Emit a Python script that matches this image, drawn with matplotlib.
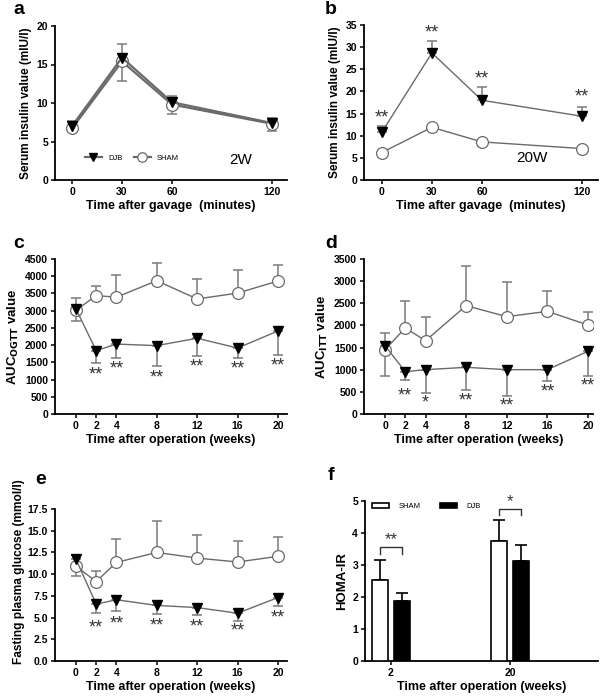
import matplotlib
matplotlib.use("Agg")
import matplotlib.pyplot as plt
import numpy as np

plt.rcParams['font.family'] = ['Liberation Sans', 'DejaVu Sans']
plt.rcParams['font.weight'] = 'bold'
plt.rcParams['axes.labelweight'] = 'bold'

# panel a (2W insulin after gavage)
t_min = [0, 30, 60, 120]
a_djb = [7.0, 15.9, 10.1, 7.4]
a_djb_err = [0.6, 1.8, 0.8, 0.7]
a_sham = [6.7, 15.4, 9.8, 7.3]
a_sham_err = [0.4, 2.5, 1.2, 0.9]

# panel b (20W insulin after gavage)
b_djb = [10.8, 28.7, 18.0, 14.4]
b_djb_err = [1.3, 2.6, 2.9, 2.1]
b_sham = [6.2, 11.9, 8.6, 7.1]
b_sham_err = [0.9, 0.3, 1.0, 0.3]
b_stars = [14.0, 33.2, 22.8, 18.7]

# weeks after operation
weeks = [0, 2, 4, 8, 12, 16, 20]

# panel c AUC OGTT
c_sham = [3010, 3440, 3390, 3870, 3340, 3510, 3860]
c_sham_err = [350, 280, 660, 510, 580, 680, 470]
c_djb = [3050, 1840, 2030, 1985, 2200, 1915, 2410]
c_djb_err = [350, 370, 410, 580, 520, 290, 690]
c_stars = [None, 1130, 1310, 1045, 1355, 1305, 1400]

# panel d AUC ITT
d_sham = [1453, 1942, 1656, 2446, 2198, 2318, 2010]
d_sham_err = [370, 600, 530, 900, 780, 450, 300]
d_djb = [1543, 956, 1001, 1054, 1001, 1001, 1415]
d_djb_err = [677, 180, 530, 505, 590, 260, 550]
d_stars = [None, 414, 248, 301, 173, 489, 625]
d_star_txt = ['', '**', '*', '**', '**', '**', '**']

# panel e fasting glucose
e_sham = [10.9, 9.15, 11.35, 12.5, 11.85, 11.4, 12.05]
e_sham_err = [1.1, 1.25, 2.65, 3.6, 2.6, 2.4, 2.25]
e_djb = [11.7, 6.55, 7.05, 6.4, 6.15, 5.5, 7.3]
e_djb_err = [0.5, 1.05, 1.25, 1.0, 0.9, 0.9, 0.95]
e_sham_up = [False, True, True, True, True, True, True]
e_stars = [None, 3.85, 4.3, 4.05, 3.95, 3.45, 5.0]

# panel f HOMA-IR
f_groups = ['2', '20']
f_sham = [2.54, 3.74]
f_sham_err = [0.62, 0.68]
f_djb = [1.86, 3.14]
f_djb_err = [0.28, 0.48]
f_sig = ['**', '*']

W, H = 609, 696
fig = plt.figure(figsize=(W / 100, H / 100), dpi=100)


def mk_ax(left, top, right, bottom):
    ax = fig.add_axes([left / W, 1 - bottom / H, (right - left) / W, (bottom - top) / H])
    ax.spines['top'].set_visible(False)
    ax.spines['right'].set_visible(False)
    ax.spines['left'].set_linewidth(1.3)
    ax.spines['bottom'].set_linewidth(1.3)
    ax.tick_params(direction='out', length=3, width=1.1, labelsize=7.5, pad=2)
    return ax


GRAY = '#6a6a6a'
EGRAY = '#7a7a7a'


def errs(ax, x, y, e, up=True):
    n = len(e)
    if up is True:
        ye = [[0] * n, e]
    elif up is False:
        ye = [e, [0] * n]
    else:
        ye = [[v if not u else 0 for v, u in zip(e, up)], [v if u else 0 for v, u in zip(e, up)]]
    ax.errorbar(x, y, yerr=ye, fmt='none', ecolor=EGRAY, elinewidth=1.1, capsize=3.5, capthick=1.1, zorder=2)


def series(ax, x, djb, sham, lw=1.0):
    l1, = ax.plot(x, djb, color=GRAY, lw=lw, marker='v', ms=7.5, mfc='black', mec='black', zorder=4, label='DJB')
    l2, = ax.plot(x, sham, color=GRAY, lw=lw, marker='o', ms=8.5, mfc='white', mec=GRAY, mew=0.9, zorder=3, label='SHAM')
    return l1, l2


def stars(ax, x, ys, txt=None):
    for i, (xx, yy) in enumerate(zip(x, ys)):
        if yy is None:
            continue
        s = txt[i] if txt else '**'
        ax.text(xx, yy, s, ha='center', va='center', fontsize=13, color='#333333', fontweight='normal')


def weeks_axis(ax):
    ax.set_xticks(weeks)
    ax.set_xlim(-2.08, 20.9)
    ax.set_xlabel('Time after operation (weeks)', fontsize=9, labelpad=2)


# a
ax = mk_ax(55, 26, 287, 180)
errs(ax, t_min, a_djb, a_djb_err, True)
errs(ax, t_min, a_sham, a_sham_err, False)
series(ax, t_min, a_djb, a_sham, lw=1.6)
ax.set_xlim(-10.2, 129)
ax.set_ylim(0, 20)
ax.set_xticks(t_min)
ax.set_yticks([0, 5, 10, 15, 20])
ax.set_xlabel('Time after gavage  (minutes)', fontsize=9, labelpad=2)
ax.set_ylabel('Serum insulin value (mIU/l)', fontsize=8.5, labelpad=3)
ax.legend(loc='center left', bbox_to_anchor=(0.1, 0.14), ncol=2, frameon=False,
          prop={'size': 5.5, 'weight': 'normal'}, handlelength=2.2, columnspacing=1.5, handletextpad=0.8,
          markerscale=0.8)
ax.text(101, 2.6, '2W', fontsize=11, fontweight='normal', ha='center', va='center')

# b
ax = mk_ax(364, 25, 598, 180)
errs(ax, t_min, b_djb, b_djb_err, True)
errs(ax, t_min, b_sham, b_sham_err, False)
series(ax, t_min, b_djb, b_sham)
stars(ax, t_min, b_stars)
ax.set_xlim(-10.7, 129.6)
ax.set_ylim(0, 35)
ax.set_xticks(t_min)
ax.set_yticks(range(0, 36, 5))
ax.set_xlabel('Time after gavage  (minutes)', fontsize=9, labelpad=2)
ax.set_ylabel('Serum insulin value (mIU/l)', fontsize=8.5, labelpad=3)
ax.text(90, 5.0, '20W', fontsize=11, fontweight='normal', ha='center', va='center')

# c
ax = mk_ax(55, 259, 287, 414)
errs(ax, weeks, c_sham, c_sham_err, True)
errs(ax, weeks, c_djb, c_djb_err, False)
series(ax, weeks, c_djb, c_sham)
stars(ax, weeks, c_stars)
weeks_axis(ax)
ax.set_ylim(0, 4500)
ax.set_yticks(range(0, 4501, 500))
ax.set_ylabel(r'AUC$_{\mathbf{OGTT}}$ value', fontsize=9.5, labelpad=3)

# d
ax = mk_ax(364, 259, 593, 414)
errs(ax, weeks, d_sham, d_sham_err, True)
errs(ax, weeks, d_djb, d_djb_err, False)
series(ax, weeks, d_djb, d_sham)
stars(ax, weeks, d_stars, d_star_txt)
ax.set_xticks(weeks)
ax.set_xlim(-2.07, 20.5)
ax.set_xlabel('Time after operation (weeks)', fontsize=9, labelpad=2)
ax.set_ylim(0, 3500)
ax.set_yticks(range(0, 3501, 500))
ax.set_ylabel(r'AUC$_{\mathbf{ITT}}$ value', fontsize=9.5, labelpad=3)

# e
ax = mk_ax(55, 509, 287, 661)
errs(ax, weeks, e_sham, e_sham_err, e_sham_up)
errs(ax, weeks, e_djb, e_djb_err, [not u for u in e_sham_up])
series(ax, weeks, e_djb, e_sham)
stars(ax, weeks, e_stars)
weeks_axis(ax)
ax.set_ylim(0, 17.5)
ax.set_yticks(np.arange(0, 17.6, 2.5))
ax.set_yticklabels(['%.1f' % v for v in np.arange(0, 17.6, 2.5)])
ax.set_ylabel('Fasting plasma glucose (mmol/l)', fontsize=8.6, labelpad=3)
ax.yaxis.set_label_coords(19 / W, 1 - 572 / H, transform=fig.transFigure)
ax.yaxis.label.set_va('center')

# f
ax = mk_ax(365, 501, 598, 661)
gx = np.arange(len(f_groups))
bw = 0.134
off = 0.092
ax.bar(gx - off, f_sham, bw, color='white', edgecolor='black', linewidth=1.2, label='SHAM', zorder=3)
ax.bar(gx + off, f_djb, bw, color='black', edgecolor='black', linewidth=1.2, label='DJB', zorder=3)
ax.errorbar(gx - off, f_sham, yerr=[[0, 0], f_sham_err], fmt='none', ecolor='black', elinewidth=1.2, capsize=4, capthick=1.2, zorder=2)
ax.errorbar(gx + off, f_djb, yerr=[[0, 0], f_djb_err], fmt='none', ecolor='black', elinewidth=1.2, capsize=4, capthick=1.2, zorder=2)
for i in range(len(f_groups)):
    top = max(f_sham[i] + f_sham_err[i], f_djb[i] + f_djb_err[i]) + [0.4, 0.34][i]
    ax.plot([gx[i] - off, gx[i] - off, gx[i] + off, gx[i] + off], [top - 0.21, top, top, top - 0.21], color='#333333', lw=1.0)
    ax.text(gx[i], top + 0.22, f_sig[i], ha='center', va='center', fontsize=12, fontweight='normal', color='#333333')
ax.set_xlim(-0.218, 1.74)
ax.set_ylim(0, 5)
ax.set_xticks(gx)
ax.set_xticklabels(f_groups)
ax.set_yticks(range(0, 6))
ax.set_xlabel('Time after operation (weeks)', fontsize=9, labelpad=2)
ax.set_ylabel('HOMA-IR', fontsize=9.5, labelpad=3)
ax.legend(loc='upper left', bbox_to_anchor=(0.0, 1.03), ncol=2, frameon=False,
          prop={'size': 5.5, 'weight': 'normal'}, handlelength=2.3, handleheight=0.6, columnspacing=2.5, handletextpad=1.2)

# panel letters
for s, x, y in [('a', 19, 10), ('b', 331, 10), ('c', 19, 243), ('d', 331, 243), ('e', 41, 480), ('f', 331, 476)]:
    fig.text(x / W, 1 - y / H, s, fontsize=14, fontweight='bold', ha='center', va='center')

fig.savefig('out.png', dpi=100)
